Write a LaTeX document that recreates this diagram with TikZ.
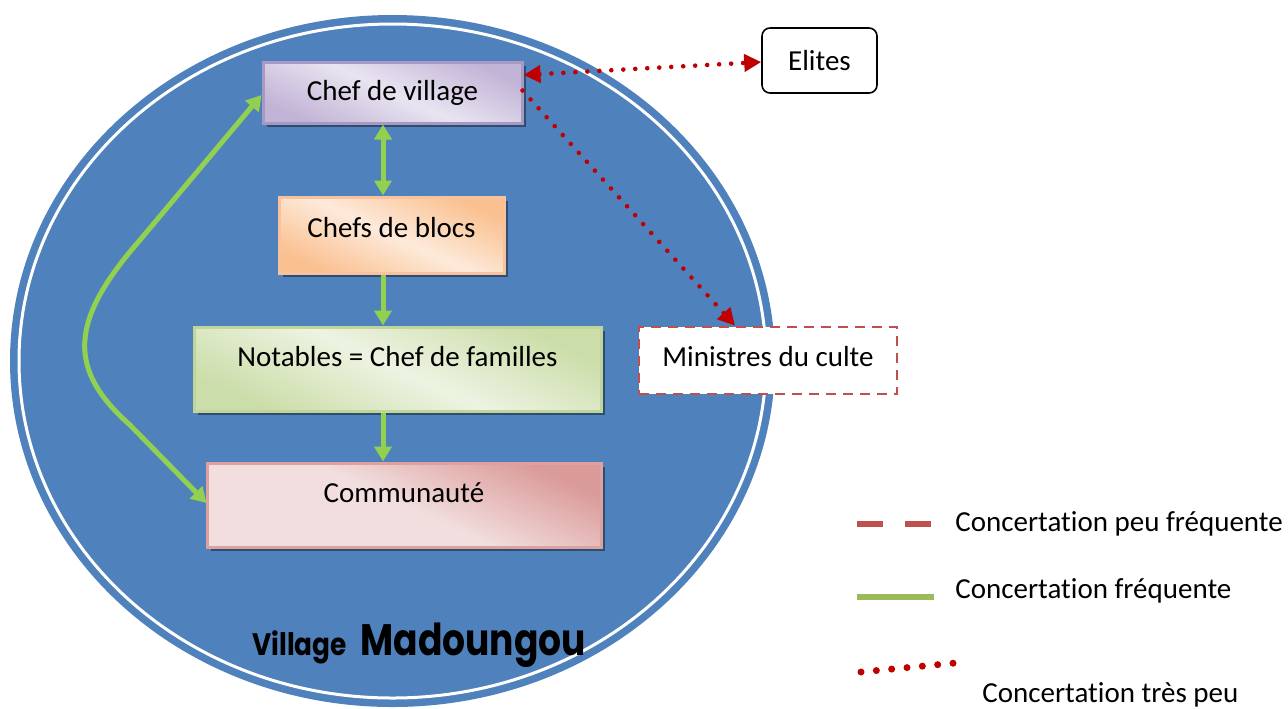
\documentclass[tikz,border=0pt]{standalone}
\usepackage{fontspec}
\setmainfont{Carlito}[Ligatures=NoCommon]
\newfontfamily\vfont{Poppins}
\usetikzlibrary{arrows.meta,calc,shadows}
\definecolor{vblue}{HTML}{4F81BD}
\definecolor{vgreen}{HTML}{92D050}
\definecolor{lgreen}{HTML}{9BBB59}
\definecolor{vred}{HTML}{C00000}
\definecolor{dred}{HTML}{C0504D}
\definecolor{pbord}{HTML}{A899C4}
\definecolor{pdark}{HTML}{C2B4D6}
\definecolor{plight}{HTML}{E9E4F1}
\definecolor{obord}{HTML}{F8C39C}
\definecolor{odark}{HTML}{FAC090}
\definecolor{olight}{HTML}{FDEADA}
\definecolor{gbord}{HTML}{C0D59A}
\definecolor{gdark}{HTML}{CBDDA8}
\definecolor{glight}{HTML}{EDF3E2}
\definecolor{kbord}{HTML}{DDA2A0}
\definecolor{kdark}{HTML}{DA9A98}
\definecolor{klight}{HTML}{F2DEDE}
\begin{document}
\begin{tikzpicture}[x=0.5pt,y=-0.5pt,
  every node/.style={font=\fontsize{14.5pt}{17pt}\selectfont, text=black},
  boxstyle/.style={draw, line width=1.5pt, inner sep=0pt,
     drop shadow={shadow xshift=2pt, shadow yshift=-2pt, opacity=.4, fill=black}},
  purplebox/.style={boxstyle, draw=pbord, top color=pdark, bottom color=pdark, middle color=plight, shading angle=-25},
  orangebox/.style={boxstyle, draw=obord, top color=odark, bottom color=odark, middle color=olight, shading angle=-25},
  greenbox/.style={boxstyle, draw=gbord, top color=gdark, bottom color=gdark, middle color=glight, shading angle=-25},
  pinkbox/.style={boxstyle, draw=kbord, top color=kdark, bottom color=klight, middle color=klight, shading angle=-25},
  greenarrow/.style={draw=vgreen, line width=2.5pt, -{Triangle[length=7.5pt,width=8.5pt]}},
  greenarrows/.style={greenarrow, {Triangle[length=7.5pt,width=8.5pt]}-{Triangle[length=7.5pt,width=8.5pt]}},
  reddots/.style={draw=vred, line width=2.3pt, line cap=round, dash pattern=on 0pt off 6pt},
]
\useasboundingbox (0,0) rectangle (1288,708);
% village disc
\fill[vblue] (392.5,361) ellipse [x radius=382.5, y radius=346];
\draw[white, line width=1.5pt] (392.5,361) ellipse [x radius=373.5, y radius=337];

% boxes
\node[purplebox, minimum width=129.5pt, minimum height=30.5pt] (cv) at (392.5,92.5) {Chef de village};
\node[orangebox, minimum width=112.5pt, minimum height=38pt] (cb) at (391.5,235) {};
\node at (391.5,228) (cbt) {Chefs de blocs};
\node[greenbox, minimum width=203.5pt, minimum height=42pt] (nt) at (397.5,369) {};
\node at (397.5,357) (ntt) {Notables = Chef de familles};
\node[pinkbox, minimum width=197pt, minimum height=42pt] (cm) at (404,505) {};
\node at (404,493) (cmt) {Communaut\'e};

\node[draw=black, line width=0.8pt, rounded corners=4pt, fill=white, minimum width=57.5pt, minimum height=32.5pt, inner sep=0pt] (el) at (819.5,60.5) {Elites};
\node[draw=dred, line width=1.3pt, dash pattern=on 5pt off 3.5pt, fill=white, minimum width=129pt, minimum height=33.5pt, inner sep=0pt] (mc) at (768,360.5) {};
\node at (768,357) (mct) {Ministres du culte};

% green connectors
\coordinate (ax) at (383,0);
\draw[greenarrows] (cv.south -| ax) -- (cb.north -| ax);
\draw[greenarrow] (cb.south -| ax) -- (nt.north -| ax);
\draw[greenarrow] (nt.south -| ax) -- (cm.north -| ax);
\draw[greenarrows] ($(cv.west)+(0,2.5)$) -- (140,240) .. controls (68,322) and (68,370) .. (130,425) -- ($(cm.west)+(1,-2)$);

% red dotted connectors
\draw[reddots, {Triangle[length=8.5pt,width=8.5pt]}-{Triangle[length=8.5pt,width=8.5pt]}] ($(cv.east)+(0,-17.5)$) -- ($(el.west)+(0,1.5)$);
\draw[reddots, -{Triangle[length=8.5pt,width=8.5pt]}] ($(cv.east)+(-1,-2)$) -- ($(mc.north)+(-33,0)$);

% title
\node[anchor=base west, inner sep=0pt] (vt) at (252,655) {\scalebox{0.85}[1]{\vfont\bfseries\fontsize{15.5pt}{16pt}\selectfont Village}};
\node[anchor=base west, inner sep=0pt] (mt) at (360,655) {\scalebox{0.82}[1]{\vfont\bfseries\fontsize{22pt}{24pt}\selectfont Madoungou}};

% legend
\coordinate (l1a) at (857,524);
\coordinate (l1b) at (931,524);
\draw[dred, line width=3pt, dash pattern=on 13pt off 11pt] (l1a) -- (l1b);
\node[anchor=west, inner sep=0pt] (l1t) at (955,524) {Concertation peu fr\'equente};
\coordinate (l2a) at (857,597);
\coordinate (l2b) at (934,597);
\draw[lgreen, line width=3pt] (l2a) -- (l2b);
\node[anchor=west, inner sep=0pt] (l2t) at (955,591) {Concertation fr\'equente};
\coordinate (l3a) at (861,672);
\coordinate (l3b) at (955,663);
\draw[vred, line width=3.5pt, line cap=round, dash pattern=on 0pt off 7.7pt] (l3a) -- (l3b);
\node[anchor=west, inner sep=0pt] (l3t) at (982,695) {Concertation tr\`es peu};
\end{tikzpicture}
\end{document}
